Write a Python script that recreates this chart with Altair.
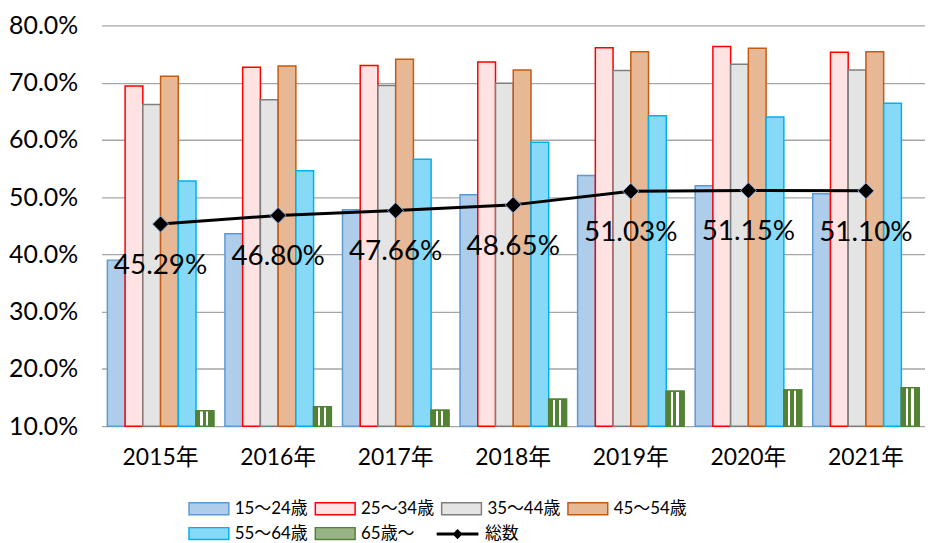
import altair as alt
import pandas as pd

years = ["2015年", "2016年", "2017年", "2018年", "2019年", "2020年", "2021年"]
groups = ["15〜24歳", "25〜34歳", "35〜44歳", "45〜54歳", "55〜64歳", "65歳〜"]
v15_24 = [39.0, 43.6, 47.8, 50.4, 53.8, 52.0, 50.6]
v25_34 = [69.4, 72.7, 73.0, 73.6, 76.1, 76.3, 75.3]
v35_44 = [66.2, 67.0, 69.5, 69.9, 72.1, 73.2, 72.2]
v45_54 = [71.1, 72.9, 74.1, 72.2, 75.4, 76.0, 75.4]
v55_64 = [52.8, 54.6, 56.6, 59.6, 64.2, 64.0, 66.4]
v65 = [12.7, 13.4, 12.8, 14.7, 16.1, 16.3, 16.7]
total = [45.29, 46.80, 47.66, 48.65, 51.03, 51.15, 51.10]
total_name = "総数"
y_ticks = [0.1, 0.2, 0.3, 0.4, 0.5, 0.6, 0.7, 0.8]

series = [v15_24, v25_34, v35_44, v45_54, v55_64, v65]
rows = []
for g, vals in zip(groups, series):
    for yr, v in zip(years, vals):
        rows.append({"year": yr, "group": g, "value": v / 100})
bars_df = pd.DataFrame(rows)
total_df = pd.DataFrame({"year": years, "value": [t / 100 for t in total], "name": total_name})

fills = ["#ADCDEA", "#FFE3E3", "#E4E4E4", "#E6B896", "#86DAF8", "#98B486"]
strokes = ["#5B9BD5", "#FF0000", "#7F7F7F", "#C55A11", "#00B0F0", "#548235"]

FONT = "Lato, 'Noto Sans CJK JP'"

x_enc = alt.X("year:N", sort=years,
              scale=alt.Scale(paddingInner=0.095, paddingOuter=0.05),
              axis=alt.Axis(title=None, labelAngle=0, labelFontSize=23, labelFont=FONT,
                            labelColor="#000000", ticks=False, domain=False, labelPadding=21))
y_enc = alt.Y("value:Q", scale=alt.Scale(domain=[0.1, 0.8]),
              axis=alt.Axis(title=None, format=".1%", values=y_ticks, labelFontSize=25,
                            labelFont="Lato", labelColor="#000000", labelPadding=24,
                            ticks=False, domain=False, gridColor="#A6A6A6", gridWidth=1.3))
xoff = alt.XOffset("group:N", sort=groups, scale=alt.Scale(domain=groups, paddingInner=0, paddingOuter=0))

bar_legend = alt.Legend(orient="none", legendX=88, legendY=475, columns=4, direction="horizontal",
                        title=None,
                        symbolType="M-2,-0.6H2V0.6H-2Z", symbolSize=400, symbolStrokeWidth=1.5,
                        symbolOffset=9, labelOffset=15, labelFont=FONT, labelFontSize=17,
                        labelColor="#000000", columnPadding=4, rowPadding=5, padding=0)

bars = alt.Chart(bars_df).mark_bar(strokeWidth=1.5).encode(
    x=x_enc,
    xOffset=xoff,
    y=y_enc,
    y2=alt.datum(0.1),
    fill=alt.Fill("group:N", scale=alt.Scale(domain=groups, range=fills), legend=bar_legend),
    stroke=alt.Stroke("group:N", scale=alt.Scale(domain=groups, range=strokes), legend=bar_legend),
)

green_grad = alt.Gradient(
    gradient="linear", x1=0, x2=1, y1=0, y2=0,
    stops=[
        alt.GradientStop(offset=0, color="#548235"),
        alt.GradientStop(offset=0.25, color="#548235"),
        alt.GradientStop(offset=0.25, color="#FFFFFF"),
        alt.GradientStop(offset=0.37, color="#FFFFFF"),
        alt.GradientStop(offset=0.37, color="#548235"),
        alt.GradientStop(offset=0.57, color="#548235"),
        alt.GradientStop(offset=0.57, color="#FFFFFF"),
        alt.GradientStop(offset=0.69, color="#FFFFFF"),
        alt.GradientStop(offset=0.69, color="#548235"),
        alt.GradientStop(offset=1, color="#548235"),
    ],
)
green = alt.Chart(bars_df).transform_filter(
    alt.datum.group == groups[5]
).mark_bar(fill=green_grad, stroke="#548235", strokeWidth=1.5).encode(
    x=alt.X("year:N", sort=years), xOffset=alt.XOffset("group:N", sort=groups), y="value:Q", y2=alt.datum(0.1)
)

line = alt.Chart(total_df).mark_line(color="#000000", strokeWidth=3).encode(
    x=alt.X("year:N", sort=years), y="value:Q",
    opacity=alt.Opacity("name:N", scale=alt.Scale(domain=[total_name], range=[1]),
                        legend=alt.Legend(orient="none", legendX=337, legendY=500, title=None,
                                          symbolType="M-2.1,0H2.1M-0.3,0L0,-0.3L0.3,0L0,0.3Z",
                                          symbolSize=400, symbolStrokeWidth=3,
                                          symbolStrokeColor="#000000", symbolFillColor="#000000",
                                          symbolOffset=9.5, labelOffset=16, labelFont=FONT,
                                          labelFontSize=17, labelColor="#000000", padding=0)),
)

points = alt.Chart(total_df).mark_point(shape="diamond", filled=True, size=260, fill="#000000",
                                        stroke="#8FAADC", strokeWidth=1, opacity=1).encode(
    x=alt.X("year:N", sort=years), y="value:Q",
)

labels = alt.Chart(total_df).mark_text(dy=42, fontSize=28, font="Lato", color="#000000",
                                       baseline="middle", align="center").encode(
    x=alt.X("year:N", sort=years), y="value:Q",
    text=alt.Text("value:Q", format=".2%"),
)

chart = alt.layer(bars, green, line, points, labels).properties(
    width=828, height=403,
    autosize=alt.AutoSizeParams(type="none"),
    padding={"left": 94, "top": 16, "right": 0, "bottom": 116},
    background="#FFFFFF",
).configure_view(stroke=None)

chart.save("out.html", embed_options={"renderer": "svg", "actions": False})
